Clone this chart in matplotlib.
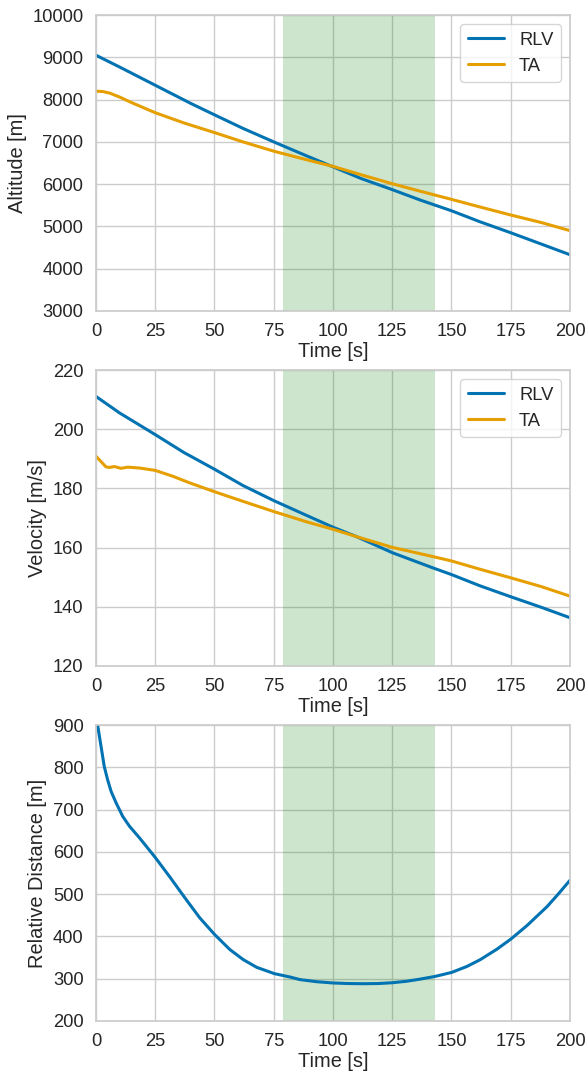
import matplotlib
matplotlib.use("Agg")
import matplotlib.pyplot as plt
import seaborn as sns

# values
T_ALT = [0, 10, 25, 40, 50, 62, 75, 88, 100, 112, 125, 137, 150, 162, 175, 188, 200]
RLV_ALT = [9050, 8770, 8340, 7910, 7640, 7320, 7000, 6690, 6410, 6130, 5870, 5620,
           5370, 5110, 4850, 4580, 4330]
TA_ALT_T = [0, 3, 6, 10, 15, 25, 37, 50, 62, 75, 88, 100, 112, 125, 137, 150, 162, 175, 188, 200]
TA_ALT = [8200, 8190, 8150, 8060, 7930, 7690, 7450, 7220, 7000, 6780, 6590, 6420, 6220,
          6010, 5830, 5640, 5460, 5270, 5090, 4900]

T_VEL = [0, 10, 25, 37, 50, 62, 75, 88, 100, 110, 125, 142, 150, 162, 175, 188, 200]
RLV_VEL = [211.1, 205.5, 198.2, 192.2, 186.5, 181.0, 175.9, 171.2, 166.9, 163.7, 158.3,
           153.2, 150.9, 147.1, 143.4, 139.8, 136.3]
TA_VEL_T = [0, 2.1, 4.2, 5.6, 7.8, 10.6, 13.4, 18.4, 25, 32.5, 39.5, 50, 60.7, 75, 89,
            100, 110, 125, 142, 150, 162, 175, 188, 200]
TA_VEL = [190.9, 189.1, 187.3, 187.1, 187.4, 186.8, 187.2, 186.9, 186.1, 184.1, 181.9,
          178.9, 176.0, 172.2, 168.7, 166.2, 163.7, 160.1, 157.0, 155.5, 152.7, 149.8,
          146.8, 143.6]

T_DIST = [0, 0.7, 2.1, 3.5, 4.9, 6.4, 8.5, 11.3, 14.1, 18.4, 25, 31, 38.1, 43.8, 50,
          56.5, 62.2, 67.8, 75.3, 81.9, 86, 93, 100, 106, 112.7, 119, 125, 131, 136.7,
          143.1, 150.1, 156.5, 162.1, 169.2, 175.1, 181.9, 190.4, 195, 200]
DIST = [915, 900, 851, 802, 771, 743, 716, 684, 661, 633, 587, 542, 487, 444, 405,
        369, 345, 327, 312, 304, 298, 293, 290, 288.7, 288.2, 288.6, 290.5, 294, 299,
        305.5, 315, 329, 345, 370, 394, 426, 471, 500, 533]

SPAN = (79, 143)
BLUE = "#0173B2"
ORANGE = "#E69F00"

sns.set_theme(style="whitegrid", font_scale=1.2)
plt.rcParams["font.family"] = ["Liberation Sans", "DejaVu Sans"]

fig, axes = plt.subplots(3, 1, figsize=(5.87, 10.77), dpi=100)
fig.subplots_adjust(left=0.1635, right=0.971, top=0.986, bottom=0.052, hspace=0.2)

ax = axes[0]
ax.axvspan(*SPAN, color="green", alpha=0.2, lw=0)
ax.plot(T_ALT, RLV_ALT, color=BLUE, lw=2.2, label="RLV")
ax.plot(TA_ALT_T, TA_ALT, color=ORANGE, lw=2.2, label="TA")
ax.set_ylim(3000, 10000)
ax.set_ylabel("Altitude [m]")
ax.legend(loc="upper right")

ax = axes[1]
ax.axvspan(*SPAN, color="green", alpha=0.2, lw=0)
ax.plot(T_VEL, RLV_VEL, color=BLUE, lw=2.2, label="RLV")
ax.plot(TA_VEL_T, TA_VEL, color=ORANGE, lw=2.2, label="TA")
ax.set_ylim(120, 220)
ax.set_yticks([120, 140, 160, 180, 200, 220])
ax.set_ylabel("Velocity [m/s]")
ax.legend(loc="upper right")

ax = axes[2]
ax.axvspan(*SPAN, color="green", alpha=0.2, lw=0)
ax.plot(T_DIST, DIST, color=BLUE, lw=2.2)
ax.set_ylim(200, 900)
ax.set_ylabel("Relative Distance [m]")

for ax in axes:
    ax.set_xlim(0, 200)
    ax.set_xticks([0, 25, 50, 75, 100, 125, 150, 175, 200])
    ax.set_xlabel("Time [s]", labelpad=1)
    ax.tick_params(pad=3)

fig.savefig("out.png", dpi=100)
